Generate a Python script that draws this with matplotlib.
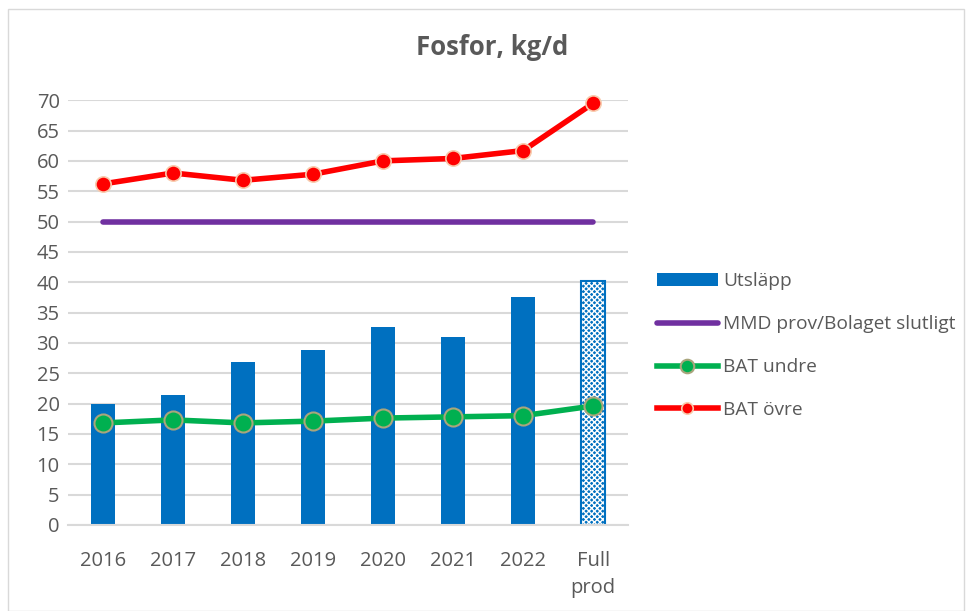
import numpy as np
import matplotlib.pyplot as plt
from matplotlib.patches import Rectangle

categories = ['2016', '2017', '2018', '2019', '2020', '2021', '2022', 'Full\nprod']
utslapp = [19.9, 21.4, 26.9, 28.8, 32.6, 31.0, 37.6, 40.2]
mmd = [50, 50, 50, 50, 50, 50, 50, 50]
bat_undre = [16.8, 17.3, 16.8, 17.1, 17.6, 17.8, 18.0, 19.6]
bat_ovre = [56.2, 58.0, 56.8, 57.8, 60.0, 60.4, 61.7, 69.5]

plt.rcParams['font.family'] = ['Open Sans', 'DejaVu Sans']
txt = '#595959'

fig = plt.figure(figsize=(9.71, 6.11), dpi=100)
fig.patches.append(Rectangle((0.008, 0.0), 0.985, 0.985, transform=fig.transFigure,
                             fill=False, edgecolor='#D9D9D9', linewidth=1))
ax = fig.add_axes([0.070, 0.141, 0.577, 0.695])

x = np.arange(len(categories))
w = 0.35
blue = '#0070C0'

b = ax.bar(x[:-1], utslapp[:-1], width=w, color=blue, zorder=2)
ax.bar(x[-1], utslapp[-1], width=w, color=blue, edgecolor='white', hatch='xxxxxx',
       linewidth=0, zorder=2)
ax.bar(x[-1], utslapp[-1], width=w, facecolor='none', edgecolor=blue, linewidth=1.5, zorder=2)

l1, = ax.plot(x, mmd, color='#7030A0', linewidth=4, solid_capstyle='round', zorder=3)
l2, = ax.plot(x, bat_undre, color='#00B050', linewidth=4, marker='o', markersize=13,
              markerfacecolor='#00B050', markeredgecolor='#A9A57C', markeredgewidth=1.5,
              zorder=4, clip_on=False)
l3, = ax.plot(x, bat_ovre, color='#FF0000', linewidth=4, marker='o', markersize=11,
              markerfacecolor='#FF0000', markeredgecolor='#F8CBAD', markeredgewidth=1.2,
              zorder=4, clip_on=False)

ax.set_xlim(-0.5, len(categories) - 0.5)
ax.set_ylim(0, 70)
ax.set_yticks(np.arange(0, 71, 5))
ax.set_xticks(x)
ax.set_xticklabels(categories)
ax.yaxis.grid(True, color='#D9D9D9', linewidth=1.5, zorder=0)
ax.set_axisbelow(True)
for s in ['top', 'right', 'left']:
    ax.spines[s].set_visible(False)
ax.spines['bottom'].set_color('#D9D9D9')
ax.spines['bottom'].set_linewidth(1.5)
ax.tick_params(axis='both', length=0, labelsize=14.5, colors=txt)
ax.tick_params(axis='x', pad=19)
ax.tick_params(axis='y', pad=6)
for t in ax.get_xticklabels():
    t.set_linespacing(1.45)

fig.text(0.507, 0.922, 'Fosfor, kg/d', ha='center', va='center', fontsize=18.5,
         fontweight='bold', color=txt)

leg = ax.legend([b, l1, l2, l3],
                ['Utsläpp', 'MMD prov/Bolaget slutligt', 'BAT undre', 'BAT övre'],
                loc='upper left', bbox_to_anchor=(1.02, 0.635), frameon=False,
                fontsize=13.8, labelspacing=1.3, handlelength=3.2, handletextpad=0.25,
                labelcolor=txt, markerscale=0.75)

fig.savefig('out.png', dpi=100)
